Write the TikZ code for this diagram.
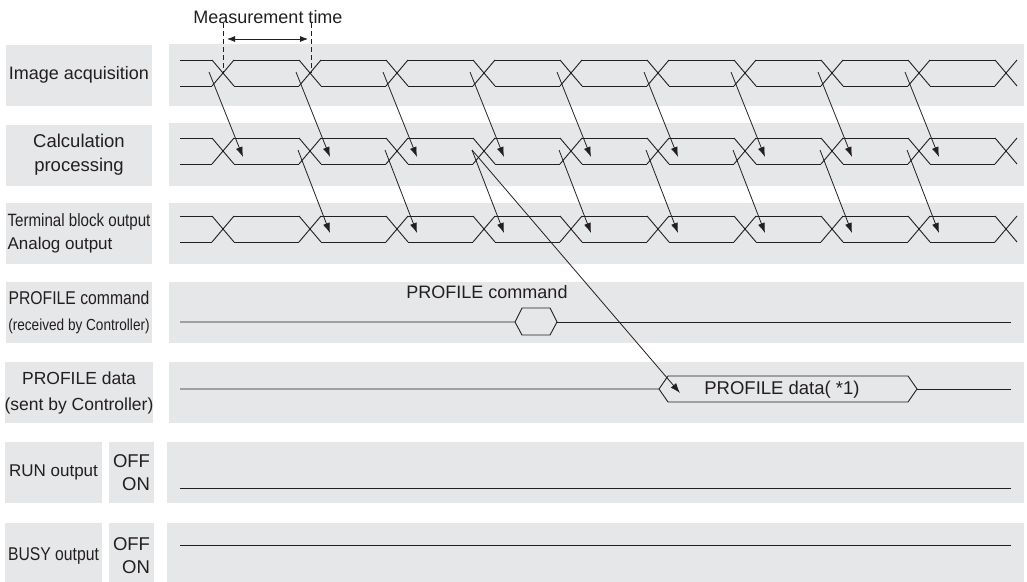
\documentclass[tikz,border=0pt]{standalone}
\usepackage{fontspec}
\setmainfont{Liberation Sans}
\newfontfamily\narrowfont[FakeStretch=0.85]{Liberation Sans}
\usetikzlibrary{arrows.meta}
\definecolor{bandgray}{HTML}{E6E7E8}
\definecolor{ink}{HTML}{231F20}
\tikzset{
  lblbox/.style={fill=bandgray,text=ink,inner sep=0pt,minimum height=61pt},
  wave/.style={draw=ink,line width=0.9pt},
  flow/.style={ink,line width=0.8pt,-{Latex[length=10pt,width=7pt]}},
  tick/.style={ink,line width=0.8pt,dash pattern=on 5pt off 3pt},
  sig/.style={text=ink,inner sep=0pt}
}

\begin{document}
\begin{tikzpicture}[x=1pt,y=-1pt]
\useasboundingbox (0,0) rectangle (1027,581);
\clip (0,0) rectangle (1027,581);
% signal bands
\foreach \t/\b in {44/106,123/186,203/264,282/343,362/423}
  \fill[bandgray] (169,\t) rectangle (1024,\b);
\foreach \t/\b in {442/503,523/585}
  \fill[bandgray] (167,\t) rectangle (1024,\b);
% row labels
\node[lblbox,minimum width=146pt,font=\fontsize{18}{22}\selectfont] (acq) at (79,75) {Image acquisition};
\node[lblbox,minimum width=146pt,align=center,font=\fontsize{18.5}{24}\selectfont] (calc) at (79,155) {Calculation\\processing};
\node[lblbox,minimum width=146pt,align=left,font=\fontsize{17}{23}\selectfont] (term) at (79,233)
  {{\narrowfont\fontsize{17.8}{23}\selectfont Terminal block output}\\Analog output};
\node[lblbox,minimum width=146pt,align=center,font=\narrowfont\fontsize{16}{26}\selectfont] (pcmd) at (79,312.5)
  {{\fontsize{18.5}{26}\selectfont PROFILE command}\\(received by Controller)};
\node[lblbox,minimum width=146pt,align=center,font=\fontsize{17.5}{26}\selectfont] (pdat) at (79,392.5) {PROFILE data\\(sent by Controller)};
\node[lblbox,minimum width=97pt,font=\fontsize{17}{22}\selectfont] (run) at (53.5,472.5) {RUN output};
\node[lblbox,minimum width=45pt,align=right,font=\fontsize{18.5}{23}\selectfont] (runlvl) at (131.5,472.5) {OFF\\ON};
\node[lblbox,minimum width=97pt,minimum height=66pt,font=\narrowfont\fontsize{18.5}{22}\selectfont] (busy) at (53.5,556) {BUSY output};
\node[lblbox,minimum width=45pt,minimum height=66pt,align=right,font=\fontsize{18.5}{23}\selectfont] (busylvl) at (131.5,556) {OFF\\ON};
% measurement time
\node[sig,font=\fontsize{18}{22}\selectfont] (meas) at (268,17) {Measurement time};
\draw[tick] (223,23) -- (223,73);
\draw[tick] (311,23) -- (311,73);
\coordinate (mleft) at (227,39);
\coordinate (mright) at (308,39);
\draw[ink,line width=0.8pt,{Latex[length=8pt,width=6pt]}-{Latex[length=8pt,width=6pt]}] (mleft) -- (mright);
% bus waveforms
\foreach \yt/\yb in {60/86,138/164,216/242} {
  \draw[wave] (180,\yt) -- (212,\yt) (180,\yb) -- (212,\yb);
  \foreach \c in {223,310,...,1006}
    \draw[wave] (\c-11,\yt) -- (\c+11,\yb) (\c-11,\yb) -- (\c+11,\yt);
  \foreach \c in {223,310,...,919}
    \draw[wave] (\c+11,\yt) -- (\c+76,\yt) (\c+11,\yb) -- (\c+76,\yb);
}
% PROFILE command
\node[sig,font=\fontsize{18}{22}\selectfont] (cmdtxt) at (487,292) {PROFILE command};
\draw[wave] (180,322) -- (515,322) -- (522,308) -- (550,308) -- (557,322) -- (550,335) -- (522,335) -- (515,322);
\draw[wave] (557,322) -- (1011,322);
% PROFILE data
\draw[wave] (180,389) -- (659,389) -- (668,376) -- (908,376) -- (917,389) -- (908,402) -- (668,402) -- (659,389);
\draw[wave] (917,389) -- (1011,389);
\node[sig,font=\fontsize{18.5}{22}\selectfont] (datatxt) at (782,390) {PROFILE data( *1)};
\coordinate (datatip) at (680,393);
% RUN / BUSY
\draw[wave] (180,488) -- (1011,488);
\draw[wave] (180,545) -- (1011,545);
% arrows
\foreach \c [count=\k] in {223,310,...,919} {
  \coordinate (acq\k) at (\c-14,72);
  \coordinate (calc\k) at (\c+20,157);
  \draw[flow] (acq\k) -- (calc\k);
}
\foreach \c [count=\k from 2] in {310,397,...,919} {
  \coordinate (calcout\k) at (\c-12,150);
  \coordinate (term\k) at (\c+20,233);
  \draw[flow] (calcout\k) -- (term\k);
}
\draw[flow] (calcout4) -- (datatip);
\end{tikzpicture}
\end{document}
